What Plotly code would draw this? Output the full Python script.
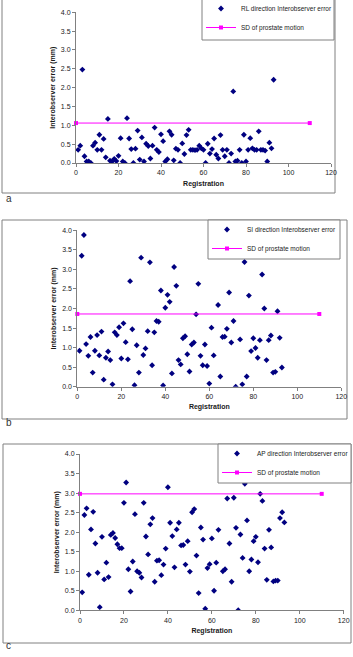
import plotly.graph_objects as go

W, H = 353, 657

# ---------------- data ----------------
reg_a = list(range(1, 94))
rl_err = [0.35, 0.46, 2.48, 0.18, 0.04, 0.04, 0.0, 0.46, 0.54, 0.35,
          0.75, 0.35, 0.64, 0.15, 1.17, 0.06, 0.04, 0.11, 0.05, 0.19,
          0.66, 0.04, 0.0, 1.19, 0.65, 0.37, 0.0, 0.38, 0.86, 0.09,
          0.68, 0.04, 0.51, 0.45, 0.12, 0.46, 0.94, 0.35, 0.29, 0.76,
          0.58, 0.04, 0.10, 0.84, 0.75, 0.07, 0.38, 0.35, 0.0, 0.52,
          0.24, 0.74, 0.88, 0.35, 0.35, 0.34, 0.35, 0.46, 0.39, 0.35,
          0.0, 0.51, 0.25, 0.37, 0.65, 0.22, 0.12, 0.74, 0.35, 0.18,
          0.35, 0.0, 0.25, 1.90, 0.04, 0.06, 0.35, 0.0, 0.75, 0.04,
          0.35, 0.66, 0.39, 0.35, 0.35, 0.84, 0.35, 0.35, 0.33, 0.04,
          0.54, 0.39, 2.21]

reg_b = [r for r in range(1, 94) if r not in (63, 73)]
si_err = [0.92, 3.35, 3.88, 1.09, 0.79, 1.27, 0.36, 0.92, 1.32, 0.80,
          1.41, 0.18, 0.74, 0.90, 0.68, 0.06, 1.39, 1.32, 1.52, 0.72,
          1.62, 1.14, 0.70, 2.70, 1.47, 0.04, 1.06, 0.36, 3.30, 0.81,
          0.98, 1.42, 3.18, 0.55, 1.39, 1.68, 1.66, 2.46, 0.03, 2.02,
          2.35, 2.17, 0.34, 3.06, 2.58, 0.68, 0.57, 1.24, 1.29, 0.83,
          0.39, 1.08, 1.13, 1.85, 2.63, 0.79, 0.55, 1.08, 0.53, 0.08,
          1.51, 0.80, 2.09, 0.26, 1.27, 1.28, 1.48, 2.41, 1.13, 1.68,
          0.0, 1.21, 0.06, 3.19, 0.26, 2.33, 0.91, 1.24, 0.99, 0.74,
          1.19, 2.87, 2.00, 0.68, 1.19, 1.31, 0.36, 0.38, 1.93, 1.25,
          0.49]

reg_c = [r for r in range(1, 94) if r != 64]
ap_err = [0.46, 2.44, 2.61, 0.91, 2.07, 2.52, 1.71, 0.96, 0.08, 1.88,
          0.79, 1.22, 0.85, 1.93, 1.98, 1.85, 1.69, 1.59, 1.59, 2.75,
          3.27, 1.05, 0.48, 1.25, 2.46, 1.00, 0.96, 0.84, 2.75, 1.89,
          1.43, 2.20, 2.36, 0.73, 1.27, 1.28, 0.90, 1.17, 1.58, 3.15,
          2.24, 1.90, 1.10, 2.07, 2.24, 1.66, 1.67, 1.17, 1.77, 0.99,
          2.51, 2.59, 1.40, 0.44, 2.12, 1.81, 0.04, 1.08, 1.18, 1.84,
          0.50, 1.22, 2.06, 1.00, 1.05, 2.86, 1.71, 0.73, 2.88, 2.11,
          0.0, 1.94, 1.34, 3.24, 2.30, 1.00, 1.30, 1.77, 1.88, 1.23,
          2.98, 2.80, 1.58, 0.78, 2.06, 1.61, 0.74, 0.76, 0.76, 2.36,
          2.51, 2.25]

sd_x = [0, 110]
sd_rl = 1.06
sd_si = 1.86
sd_ap = 2.98

names = ["RL direction Interobserver error",
         "SI direction Interobserver error",
         "AP direction Interobserver error"]
panel_labels = ["a", "b", "c"]

x_ticks = [0, 20, 40, 60, 80, 100, 120]
y_ticks = [0.0, 0.5, 1.0, 1.5, 2.0, 2.5, 3.0, 3.5, 4.0]

# ---------------- layout geometry (pixels) ----------------
FONT = "Liberation Sans, Arial, sans-serif"
NAVY = "#000080"
MAG = "#FF00FF"
GRAY = "#808080"
TXT = "#1a1a1a"

def px(x):
    return x / W

def py(y):
    return 1 - y / H

panels = [
    dict(x0=76, x1=331, y0=163, y1=12.3, box=(2, -1, 335, 193), lab=(4, 206),
         leg=(202, -1, 334, 40), reg=reg_a, val=rl_err, sd=sd_rl),
    dict(x0=77.3, x1=341.3, y0=386.7, y1=230.3, box=(2, 220, 347, 419), lab=(4, 430),
         leg=(208, 220, 340, 259), reg=reg_b, val=si_err, sd=sd_si),
    dict(x0=80, x1=343.7, y0=610.3, y1=454, box=(3, 444, 351, 643), lab=(4, 653),
         leg=(218, 444, 351, 483), reg=reg_c, val=ap_err, sd=sd_ap),
]

fig = go.Figure()
layout = dict(
    width=W, height=H,
    margin=dict(l=0, r=0, t=0, b=0, autoexpand=False),
    paper_bgcolor="white", plot_bgcolor="white",
    font=dict(family=FONT, size=7, color=TXT),
    showlegend=True,
)
shapes = []
annotations = []

for i, p in enumerate(panels):
    k = "" if i == 0 else str(i + 1)
    legname = "legend" if i == 0 else f"legend{i + 1}"
    fig.add_trace(go.Scatter(
        x=p["reg"], y=p["val"], mode="markers", name=names[i],
        marker=dict(symbol="diamond", size=4.5, color=NAVY),
        xaxis="x" + k, yaxis="y" + k, legend=legname, legendgroup=f"pts{i}",
    ))
    fig.add_trace(go.Scatter(
        x=sd_x, y=[p["sd"], p["sd"]], mode="lines+markers",
        name="SD of prostate motion",
        line=dict(color=MAG, width=1),
        marker=dict(symbol="square", size=4, color=MAG),
        xaxis="x" + k, yaxis="y" + k, legend=legname, legendgroup=f"sd{i}",
        cliponaxis=False,
    ))
    layout["xaxis" + k] = dict(
        domain=[px(p["x0"]), px(p["x1"])], range=[0, 120],
        tickvals=x_ticks, ticks="outside", ticklen=3, tickcolor=GRAY,
        showline=True, linecolor=GRAY, linewidth=1, showgrid=False,
        zeroline=False, anchor="y" + k,
        tickfont=dict(size=7, family=FONT, color=TXT),
        title=dict(text="<b>Registration</b>", font=dict(size=7, family=FONT),
                   standoff=5),
    )
    layout["yaxis" + k] = dict(
        domain=[py(p["y0"]), py(p["y1"])], range=[0, 4],
        tickvals=y_ticks, tickformat=".1f", ticks="outside", ticklen=3,
        tickcolor=GRAY, showline=True, linecolor=GRAY, linewidth=1,
        showgrid=False, zeroline=False, anchor="x" + k,
        tickfont=dict(size=7, family=FONT, color=TXT),
        title=dict(text="<b>Interobserver error (mm)</b>",
                   font=dict(size=7, family=FONT), standoff=4),
    )
    lx0, ly0, lx1, ly1 = p["leg"]
    layout[legname] = dict(
        x=px(lx0 - 1), y=py(ly0 - 5), xanchor="left", yanchor="top",
        bgcolor="rgba(0,0,0,0)", borderwidth=0,
        font=dict(size=6.5, family=FONT, color=TXT),
        tracegroupgap=0,
    )
    bx0, by0, bx1, by1 = p["box"]
    shapes.append(dict(type="rect", xref="paper", yref="paper",
                       x0=px(bx0), x1=px(bx1), y0=py(by1), y1=py(by0),
                       line=dict(color=GRAY, width=1), fillcolor="rgba(0,0,0,0)",
                       layer="below"))
    shapes.append(dict(type="rect", xref="paper", yref="paper",
                       x0=px(lx0), x1=px(lx1), y0=py(ly1), y1=py(ly0),
                       line=dict(color=GRAY, width=1), fillcolor="white",
                       layer="above"))
    annotations.append(dict(text=panel_labels[i], xref="paper", yref="paper",
                            x=px(p["lab"][0]), y=py(p["lab"][1]),
                            xanchor="left", yanchor="bottom", showarrow=False,
                            font=dict(size=10, family=FONT, color="#333333")))

layout["shapes"] = shapes
layout["annotations"] = annotations
fig.update_layout(**layout)
fig.write_html("out.html")
